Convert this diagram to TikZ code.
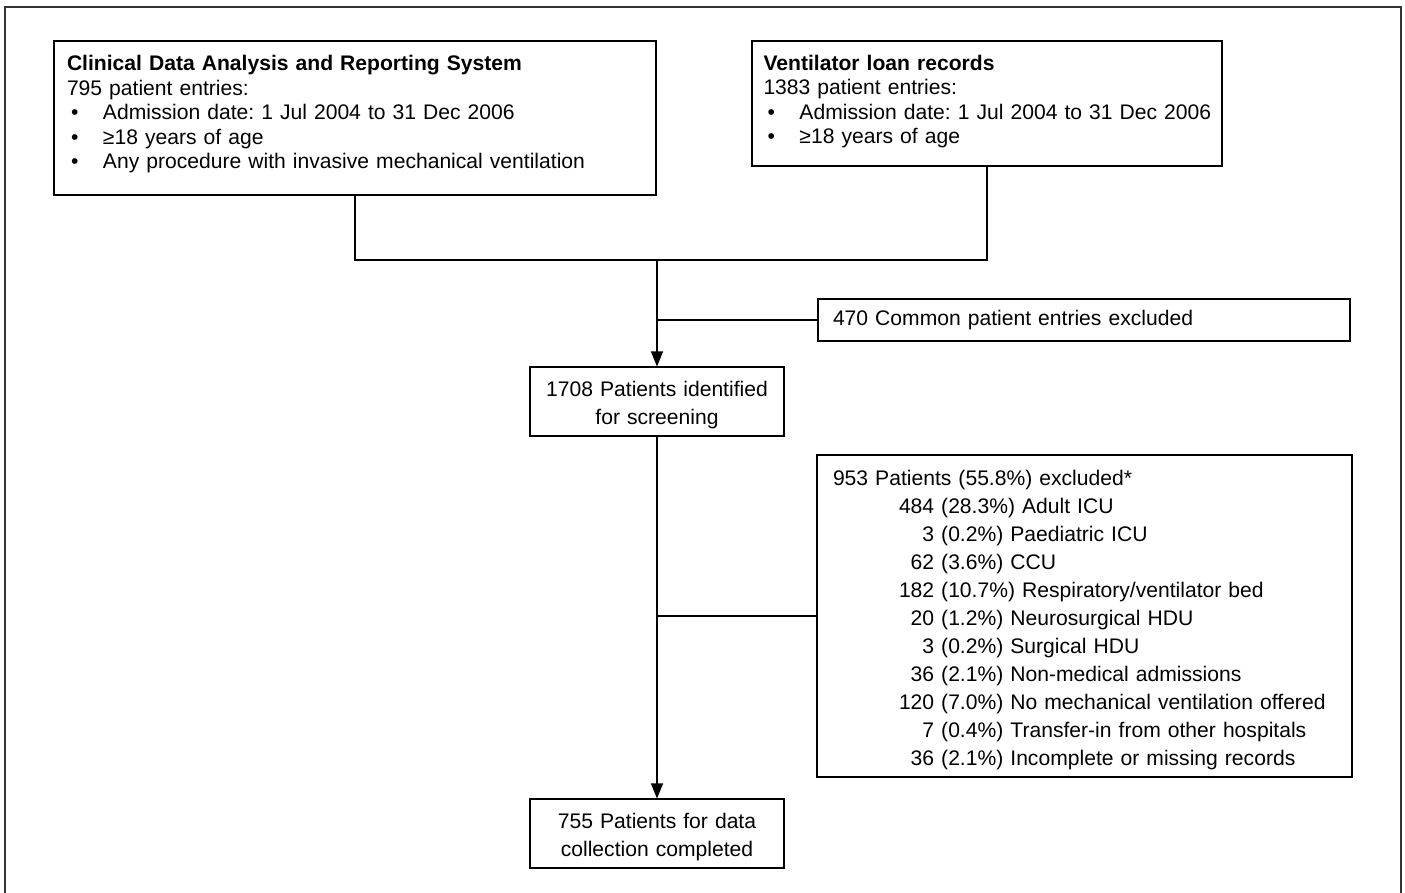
\documentclass[tikz,border=0pt]{standalone}
\usepackage{fontspec}
\setmainfont{Liberation Sans}
\usetikzlibrary{arrows.meta, positioning}
\frenchspacing

\newcommand{\listdot}{\hspace*{4pt}\makebox[32pt][l]{\textbullet}}
\newcommand{\lowgap}[1]{\rule[-#1]{0pt}{1pt}}

\begin{document}
\begin{tikzpicture}[x=1pt, y=-1pt, >={Triangle[length=15pt, width=12pt]},
    box/.style={draw, rectangle, line width=1.1pt, inner xsep=13pt, inner ysep=0pt,
        font=\fontsize{21.1}{28}\selectfont},
    listbox/.style={box, align=left, font=\fontsize{21.1}{24.5}\selectfont},
    midbox/.style={box, align=center, text width=228pt, minimum height=69pt},
    link/.style={line width=1.1pt}]
    \useasboundingbox (0,0) rectangle (1405,893);
    \draw[line width=1.5pt, black!80] (5,893) -- (5,7) -- (1401,7) -- (1401,893);

    \node[listbox, text width=576pt, minimum height=154pt] (cdars) at (355,118)
        {\textbf{Clinical Data Analysis and Reporting System}\\
        795 patient entries:\\
        \listdot Admission date: 1 Jul 2004 to 31 Dec 2006\\
        \listdot ≥18 years of age\\
        \listdot Any procedure with invasive mechanical ventilation\lowgap{12pt}};
    \node[listbox, text width=447pt, minimum height=125pt, inner xsep=11.5pt] (vent) at (987,103.5)
        {\textbf{Ventilator loan records}\\
        1383 patient entries:\\
        \listdot\mbox{Admission date: 1 Jul 2004 to 31 Dec 2006}\\
        \listdot ≥18 years of age\lowgap{8pt}};

    \node[box, align=left, text width=502pt, minimum height=42pt, inner xsep=15pt] (common) at (1084,320)
        {470 Common patient entries excluded};
    \node[midbox] (ident) at (657,401.5) {\rule{0pt}{22pt}1708 Patients identified\\for screening};

    \node[box, align=left, text width=503pt, minimum height=322pt, inner xsep=16pt] (excl) at (1084.5,616)
        {\begin{tabular}{@{\hspace{66pt}}r@{\ }l@{}}
        \multicolumn{2}{@{}l@{}}{\rule{0pt}{27pt}953 Patients (55.8\%) excluded*}\\
        484 & (28.3\%) Adult ICU\\
        3 & (0.2\%) Paediatric ICU\\
        62 & (3.6\%) CCU\\
        182 & (10.7\%) Respiratory/ventilator bed\\
        20 & (1.2\%) Neurosurgical HDU\\
        3 & (0.2\%) Surgical HDU\\
        36 & (2.1\%) Non-medical admissions\\
        120 & (7.0\%) No mechanical ventilation offered\\
        7 & (0.4\%) Transfer-in from other hospitals\\
        36 & (2.1\%) Incomplete or missing records
        \end{tabular}};
    \node[midbox] (final) at (657,833.5) {\rule{0pt}{22pt}755 Patients for data\\collection completed};

    \coordinate (merge) at (657,260);
    \draw[link] (cdars.south) |- (merge) -| (vent.south);
    \draw[link, ->] (merge) -- (ident.north);
    \draw[link] (common.west) -- (common.west -| ident.north);
    \draw[link, ->] (ident.south) -- (final.north);
    \draw[link] (excl.west) -- (excl.west -| ident.south);
\end{tikzpicture}
\end{document}
